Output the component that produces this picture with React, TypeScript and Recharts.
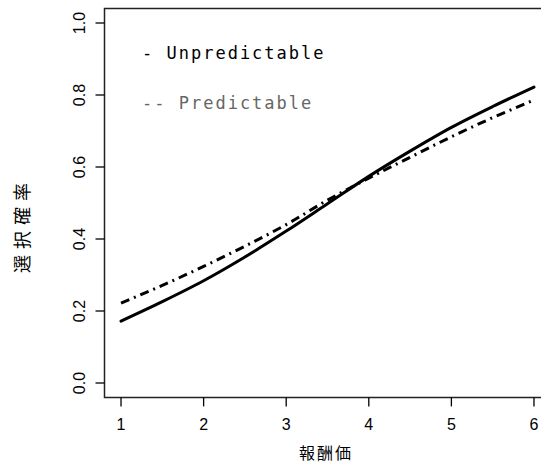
import { LineChart, Line, XAxis, YAxis, ReferenceArea } from "recharts";

// reward values (x) and choice probabilities
const rewards = [1, 1.5, 2, 2.5, 3, 3.5, 4, 4.5, 5, 5.5, 6];
const unpredictable = [0.172, 0.226, 0.284, 0.35, 0.422, 0.498, 0.574, 0.644, 0.71, 0.768, 0.822];
const predictable = [0.222, 0.271, 0.324, 0.38, 0.44, 0.508, 0.569, 0.627, 0.684, 0.737, 0.786];

const xTicks = [1, 2, 3, 4, 5, 6];
const yTicks = [0, 0.2, 0.4, 0.6, 0.8, 1.0];

const data = rewards.map((r, i) => ({
  reward: r,
  unpredictable: unpredictable[i],
  predictable: predictable[i],
}));

const TICK_FONT = "'Liberation Sans', Arial, sans-serif";
const CJK_FONT = "'Noto Sans CJK JP', sans-serif";
const MONO_FONT = "'DejaVu Sans Mono', monospace";

function YTick(props: any) {
  const { x, y, payload } = props;
  return (
    <text
      x={x}
      y={y}
      transform={`rotate(-90, ${x}, ${y})`}
      textAnchor="middle"
      fill="#000"
      fontSize={16}
      fontFamily={TICK_FONT}
    >
      {Number(payload.value).toFixed(1)}
    </text>
  );
}

export default function App() {
  return (
    <div
      style={{
        position: "fixed",
        left: 0,
        top: 0,
        width: 541,
        height: 466,
        overflow: "hidden",
        background: "#fff",
      }}
    >
      <LineChart
        width={560}
        height={466}
        data={data}
        margin={{ top: 8.6, right: 9.5, left: 0, bottom: 0 }}
      >
        <XAxis
          dataKey="reward"
          type="number"
          domain={[0.8, 6.2]}
          ticks={xTicks}
          allowDataOverflow
          axisLine={false}
          tickLine={{ stroke: "#000", strokeWidth: 1.3 }}
          tickSize={9}
          tickMargin={12}
          height={68.6}
          tick={{ fill: "#000", fontSize: 16, fontFamily: TICK_FONT }}
        />
        <YAxis
          type="number"
          domain={[-0.04, 1.04]}
          ticks={yTicks}
          allowDataOverflow
          axisLine={false}
          tickLine={{ stroke: "#000", strokeWidth: 1.3 }}
          tickSize={9}
          tickMargin={10.5}
          width={104.5}
          tick={<YTick />}
        />
        <ReferenceArea
          x1={0.8}
          x2={6.2}
          y1={-0.04}
          y2={1.04}
          fill="none"
          stroke="#222"
          strokeWidth={1.5}
          ifOverflow="visible"
        />
        <Line
          type="monotone"
          dataKey="unpredictable"
          stroke="#000"
          strokeWidth={3}
          dot={false}
          strokeLinecap="round"
          isAnimationActive={false}
        />
        <Line
          type="monotone"
          dataKey="predictable"
          stroke="#000"
          strokeWidth={3}
          strokeDasharray="9 5 2 5"
          dot={false}
          isAnimationActive={false}
        />
      </LineChart>
      <svg
        width={541}
        height={466}
        style={{ position: "absolute", left: 0, top: 0, pointerEvents: "none" }}
      >
        <text x={142} y={59} fontSize={17} letterSpacing={2} fontFamily={MONO_FONT} fill="#000">
          - Unpredictable
        </text>
        <text x={142} y={109} fontSize={17} letterSpacing={2} fontFamily={MONO_FONT} fill="#666">
          -- Predictable
        </text>
        <text x={326} y={459} fontSize={16} letterSpacing={2} textAnchor="middle" fontFamily={CJK_FONT} fill="#000">
          報酬価
        </text>
        <text
          x={21}
          y={225}
          transform="rotate(-90, 21, 225)"
          fontSize={18}
          letterSpacing={6}
          textAnchor="middle"
          dominantBaseline="central"
          fontFamily={CJK_FONT}
          fill="#000"
        >
          選択確率
        </text>
      </svg>
    </div>
  );
}
